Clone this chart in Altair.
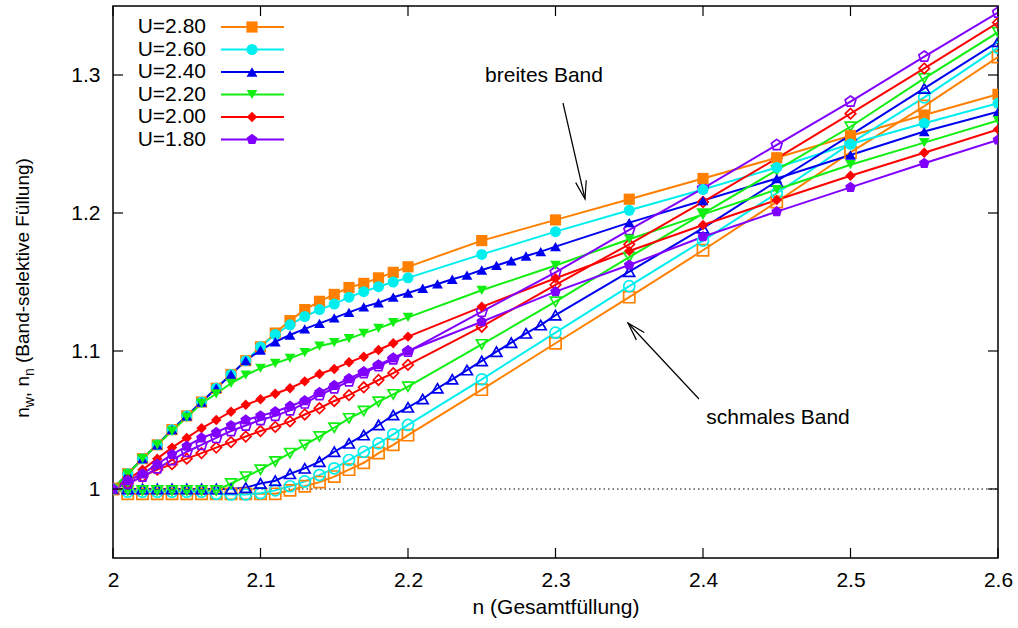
import math
import altair as alt
import pandas as pd

# ---------------------------------------------------------------------------
# data: band-selective filling n_w (wide band, filled symbols) and
# n_n (narrow band, open symbols) versus total filling n
# ---------------------------------------------------------------------------
N_STD = [2.00, 2.01, 2.02, 2.03, 2.04, 2.05, 2.06, 2.07, 2.08, 2.09, 2.10,
         2.11, 2.12, 2.13, 2.14, 2.15, 2.16, 2.17, 2.18, 2.19, 2.20,
         2.25, 2.30, 2.35, 2.40, 2.45, 2.50, 2.55, 2.60]
N_U240 = [2.00, 2.01, 2.02, 2.03, 2.04, 2.05, 2.06, 2.07, 2.08, 2.09, 2.10,
          2.11, 2.12, 2.13, 2.14, 2.15, 2.16, 2.17, 2.18, 2.19, 2.20,
          2.21, 2.22, 2.23, 2.24, 2.25, 2.26, 2.27, 2.28, 2.29, 2.30,
          2.35, 2.40, 2.45, 2.50, 2.55, 2.60]

U_LABELS = ["U=2.80", "U=2.60", "U=2.40", "U=2.20", "U=2.00", "U=1.80"]

WIDE_280 = [1.000, 1.011, 1.022, 1.032, 1.043, 1.053, 1.063, 1.073, 1.083, 1.093, 1.103,
            1.113, 1.122, 1.130, 1.136, 1.141, 1.146, 1.149, 1.153, 1.157, 1.161,
            1.180, 1.195, 1.210, 1.225, 1.240, 1.256, 1.271, 1.286]
NARROW_280 = [1.000, 0.9965, 0.9965, 0.9965, 0.9965, 0.9965, 0.9965, 0.9965, 0.9965, 0.9965, 0.9965,
              0.9965, 0.999, 1.002, 1.005, 1.009, 1.014, 1.019, 1.026, 1.032, 1.039,
              1.072, 1.1056, 1.139, 1.173, 1.208, 1.244, 1.2775, 1.313]

WIDE_260 = [1.000, 1.011, 1.022, 1.032, 1.043, 1.053, 1.063, 1.073, 1.083, 1.093, 1.103,
            1.112, 1.119, 1.125, 1.130, 1.134, 1.139, 1.143, 1.1466, 1.150, 1.153,
            1.170, 1.1865, 1.202, 1.217, 1.233, 1.250, 1.265, 1.2795]
NARROW_260 = [1.000, 0.998, 0.998, 0.998, 0.998, 0.998, 0.998, 0.9965, 0.996, 0.996, 0.997,
              0.999, 1.002, 1.0055, 1.0101, 1.015, 1.021, 1.027, 1.0331, 1.0396, 1.0464,
              1.0795, 1.1133, 1.147, 1.180, 1.2143, 1.2505, 1.2838, 1.3198]

WIDE_240 = [1.000, 1.011, 1.022, 1.032, 1.043, 1.053, 1.063, 1.073, 1.083, 1.093, 1.1007,
            1.1067, 1.1116, 1.116, 1.120, 1.124, 1.128, 1.132, 1.135, 1.139, 1.142,
            1.1455, 1.1486, 1.152, 1.155, 1.1587, 1.162, 1.1654, 1.1688, 1.172, 1.1756,
            1.193, 1.209, 1.225, 1.242, 1.259, 1.2734]
NARROW_240 = [1.000, 1.000, 1.000, 1.000, 1.000, 1.000, 1.000, 1.000, 1.000, 1.001, 1.004,
              1.006, 1.011, 1.015, 1.0198, 1.027, 1.0331, 1.0391, 1.0464, 1.0536, 1.0592,
              1.0652, 1.073, 1.0795, 1.0862, 1.0928, 1.0995, 1.106, 1.1128, 1.1188, 1.126,
              1.1575, 1.189, 1.223, 1.2565, 1.2903, 1.3241]

WIDE_220 = [1.000, 1.011, 1.022, 1.032, 1.042, 1.052, 1.062, 1.069, 1.0766, 1.0826, 1.0875,
            1.091, 1.0947, 1.0988, 1.1036, 1.106, 1.109, 1.1128, 1.1164, 1.1205, 1.1244,
            1.144, 1.162, 1.181, 1.199, 1.217, 1.235, 1.251, 1.267]
NARROW_220 = [1.000, 0.999, 0.999, 0.999, 0.999, 0.999, 0.999, 0.999, 1.004, 1.009, 1.014,
              1.020, 1.026, 1.032, 1.038, 1.0444, 1.0512, 1.0565, 1.0633, 1.0686, 1.0741,
              1.1048, 1.1357, 1.168, 1.1995, 1.231, 1.2625, 1.2976, 1.331]

WIDE_200 = [1.000, 1.007, 1.014, 1.022, 1.030, 1.037, 1.044, 1.050, 1.056, 1.061, 1.065,
            1.069, 1.073, 1.078, 1.0833, 1.087, 1.0918, 1.0959, 1.1007, 1.1056, 1.1104,
            1.132, 1.1527, 1.1725, 1.1913, 1.2094, 1.227, 1.2437, 1.2606]
NARROW_200 = [1.000, 1.004, 1.009, 1.014, 1.018, 1.022, 1.026, 1.030, 1.034, 1.038, 1.042,
              1.045, 1.049, 1.054, 1.0585, 1.0638, 1.068, 1.0737, 1.079, 1.084, 1.090,
              1.1176, 1.148, 1.1773, 1.208, 1.2396, 1.272, 1.3048, 1.338]

WIDE_180 = [1.000, 1.006, 1.011, 1.018, 1.025, 1.031, 1.037, 1.041, 1.046, 1.050, 1.053,
            1.056, 1.060, 1.064, 1.070, 1.075, 1.080, 1.085, 1.090, 1.095, 1.100,
            1.1212, 1.143, 1.1623, 1.1828, 1.201, 1.2186, 1.236, 1.2529]
NARROW_180 = [1.000, 1.004, 1.009, 1.015, 1.021, 1.027, 1.032, 1.037, 1.042, 1.046, 1.050,
              1.053, 1.057, 1.062, 1.068, 1.073, 1.078, 1.084, 1.089, 1.094, 1.0995,
              1.1285, 1.157, 1.1877, 1.2179, 1.2493, 1.2807, 1.3133, 1.3452]

X_TICKS = [2.0, 2.1, 2.2, 2.3, 2.4, 2.5, 2.6]
Y_TICKS = [1.0, 1.1, 1.2, 1.3]

# ---------------------------------------------------------------------------
# styling
# ---------------------------------------------------------------------------
FONT = "Liberation Sans"
FS = 21
COLORS = ["#ff8000", "#00eeee", "#0000f0", "#11ee11", "#ff0000", "#8000ff"]
PENTAGON = "M0,-1.1L1.046,-0.34L0.647,0.89L-0.647,0.89L-1.046,-0.34Z"
SHAPES = ["square", "circle", "triangle-up", "triangle-down", "diamond", PENTAGON]
SIZES = [125, 105, 150, 150, 110, 115]

W, H = 885, 552
PAD_L, PAD_T, PAD_R, PAD_B = 113, 6, 20, 70
X0, X1 = 2.0, 2.6
Y0, Y1 = 0.95, 1.35


def px_n(px):
    """screen x (pixels) -> data n"""
    return X0 + (px - PAD_L) / W * (X1 - X0)


def py_v(py):
    """screen y (pixels) -> data value"""
    return Y1 - (py - PAD_T) / H * (Y1 - Y0)


xscale = alt.Scale(domain=[X0, X1], nice=False, zero=False)
yscale = alt.Scale(domain=[Y0, Y1], nice=False, zero=False)
xaxis = alt.Axis(values=X_TICKS, format="~g", title="n (Gesamtfüllung)",
                 ticks=False, tickSize=0, domain=False, grid=False,
                 labelFont=FONT, labelFontSize=FS, labelColor="black",
                 labelPadding=11, labelFlush=False,
                 titleFont=FONT, titleFontSize=FS, titleFontWeight="normal",
                 titleColor="black", titlePadding=6)
yaxis = alt.Axis(values=Y_TICKS, format="~g", title=None,
                 ticks=False, tickSize=0, domain=False, grid=False,
                 labelFont=FONT, labelFontSize=FS, labelColor="black",
                 labelPadding=13, labelFlush=False)


def X(field="n"):
    return alt.X(field, type="quantitative", scale=xscale, axis=xaxis)


def Y(field="v"):
    return alt.Y(field, type="quantitative", scale=yscale, axis=yaxis)


color = alt.Color("U:N", scale=alt.Scale(domain=U_LABELS, range=COLORS), legend=None)
shape = alt.Shape("U:N", scale=alt.Scale(domain=U_LABELS, range=SHAPES), legend=None)
size = alt.Size("U:N", scale=alt.Scale(domain=U_LABELS, range=SIZES), legend=None)

# ---------------------------------------------------------------------------
# long table of all curves
# ---------------------------------------------------------------------------
series = [
    ("U=2.80", N_STD, WIDE_280, NARROW_280),
    ("U=2.60", N_STD, WIDE_260, NARROW_260),
    ("U=2.40", N_U240, WIDE_240, NARROW_240),
    ("U=2.20", N_STD, WIDE_220, NARROW_220),
    ("U=2.00", N_STD, WIDE_200, NARROW_200),
    ("U=1.80", N_STD, WIDE_180, NARROW_180),
]
rows = []
for k, (lab, ns, wide, narrow) in enumerate(series):
    for band, vals in (("schmal", narrow), ("breit", wide)):
        for n, v in zip(ns, vals):
            rows.append({"U": lab, "band": band, "series": f"{k}_{band}", "n": n, "v": v})
df = pd.DataFrame(rows)

lines = alt.Chart(df).mark_line(strokeWidth=2, clip=True).encode(
    x=X(), y=Y(), color=color, detail="series:N", order="n:Q")

pts_filled = alt.Chart(df[df.band == "breit"]).mark_point(
    filled=True, opacity=1, clip=True).encode(x=X(), y=Y(), color=color, shape=shape, size=size)

pts_open = alt.Chart(df[df.band == "schmal"]).mark_point(
    filled=False, opacity=1, strokeWidth=1.7, clip=True).encode(
    x=X(), y=Y(), color=color, shape=shape, size=size)

# dotted reference line at 1
ref = alt.Chart(pd.DataFrame({"v": [1.0]})).mark_rule(
    color="black", strokeWidth=1, strokeDash=[1.5, 3]).encode(
    y=Y(), x=alt.value(0), x2=alt.value(W))

# inward ticks on all four sides
tx = pd.DataFrame({"n": X_TICKS})
ty = pd.DataFrame({"v": Y_TICKS})
tick_style = dict(color="black", strokeWidth=1.2)
ticks_b = alt.Chart(tx).mark_rule(**tick_style).encode(x=X(), y=alt.value(H), y2=alt.value(H - 10))
ticks_t = alt.Chart(tx).mark_rule(**tick_style).encode(x=X(), y=alt.value(0), y2=alt.value(10))
ticks_l = alt.Chart(ty).mark_rule(**tick_style).encode(y=Y(), x=alt.value(0), x2=alt.value(10))
ticks_r = alt.Chart(ty).mark_rule(**tick_style).encode(y=Y(), x=alt.value(W - 10), x2=alt.value(W))

# key in the upper left corner
key = pd.DataFrame({
    "U": U_LABELS,
    "v": [py_v(27 + 22.5 * i) for i in range(len(U_LABELS))],
})
key["n_text"] = px_n(206)
key["n"] = px_n(221)
key["n2"] = px_n(284)
key["n_mark"] = px_n(252)

key_lines = alt.Chart(key).mark_rule(strokeWidth=2).encode(
    x=X("n"), x2="n2:Q", y=Y(), color=color)
key_marks = alt.Chart(key).mark_point(filled=True, opacity=1).encode(
    x=X("n_mark"), y=Y(), color=color, shape=shape, size=size)
key_text = alt.Chart(key).mark_text(
    align="right", baseline="middle", font=FONT, fontSize=FS, color="black").encode(
    x=X("n_text"), y=Y(), text="U:N")

# annotations with arrows
notes = pd.DataFrame({
    "label": ["breites Band", "schmales Band"],
    "n": [px_n(544), px_n(778)],
    "v": [py_v(76), py_v(418)],
})
note_text = alt.Chart(notes).mark_text(
    align="center", baseline="middle", font=FONT, fontSize=FS, color="black").encode(
    x=X(), y=Y(), text="label:N")

arrow_px = [((563, 103), (585, 199)), ((699, 399), (628, 323))]
arrows = pd.DataFrame({
    "n": [px_n(a[0]) for a, b in arrow_px],
    "v": [py_v(a[1]) for a, b in arrow_px],
    "n2": [px_n(b[0]) for a, b in arrow_px],
    "v2": [py_v(b[1]) for a, b in arrow_px],
    "ang": [math.degrees(math.atan2(b[1] - a[1], b[0] - a[0])) % 360 for a, b in arrow_px],
})
arrow_lines = alt.Chart(arrows).mark_rule(color="black", strokeWidth=1.2).encode(
    x=X("n"), x2="n2:Q", y=Y("v"), y2="v2:Q")
CHEVRON = "M-1,-0.3L0,0L-1,0.3"
arrow_heads = alt.Chart(arrows).mark_point(
    shape=CHEVRON, size=1300, filled=False, color="black", strokeWidth=1.2, opacity=1).encode(
    x=X("n2"), y=Y("v2"), angle=alt.Angle("ang:Q", scale=None))

# rotated y title with subscripts, assembled from pieces (Arial em widths);
# the gap before the parenthesis is a separate advance since SVG drops
# leading spaces
FS_T = 19
FS_SUB = 14
pieces = [("n", FS_T, 0.556, 0), ("w", FS_SUB, 0.722, 1), (",", FS_T, 0.278, 0),
          (" ", FS_T, 0.278, None), ("n", FS_T, 0.556, 0), ("n", FS_SUB, 0.556, 1),
          (" ", FS_T, 0.278, None), ("(Band-selektive Füllung)", FS_T, 10.781, 0)]
total = sum(fs * em for _, fs, em, _ in pieces)
cur = PAD_T + H / 2 + total / 2 + 6
main_rows, sub_rows = [], []
BASE_X = 29
for text, fs, em, is_sub in pieces:
    if is_sub is not None:
        row = {"t": text, "n": px_n(BASE_X + (5 if is_sub else 0)), "v": py_v(cur)}
        (sub_rows if is_sub else main_rows).append(row)
    cur -= fs * em
ytitle_main = alt.Chart(pd.DataFrame(main_rows)).mark_text(
    angle=270, align="left", baseline="alphabetic", font=FONT, fontSize=FS_T, color="black").encode(
    x=X(), y=Y(), text="t:N")
ytitle_sub = alt.Chart(pd.DataFrame(sub_rows)).mark_text(
    angle=270, align="left", baseline="alphabetic", font=FONT, fontSize=FS_SUB, color="black").encode(
    x=X(), y=Y(), text="t:N")

chart = alt.layer(
    ref, lines, pts_open, pts_filled,
    ticks_b, ticks_t, ticks_l, ticks_r,
    key_lines, key_marks, key_text,
    arrow_lines, arrow_heads, note_text,
    ytitle_main, ytitle_sub,
).properties(
    width=W, height=H,
    padding={"left": PAD_L, "top": PAD_T, "right": PAD_R, "bottom": PAD_B},
    autosize=alt.AutoSizeParams(type="none"),
    background="white",
).configure_view(stroke="black", strokeWidth=1.5)

chart.save("out.html", embed_options={"renderer": "svg", "actions": False})
